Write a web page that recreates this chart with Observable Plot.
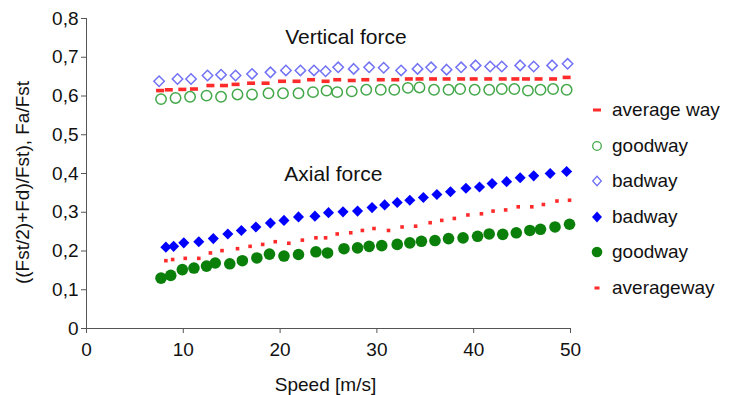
<!DOCTYPE html>
<html><head><meta charset="utf-8">
<script src="https://cdn.jsdelivr.net/npm/d3@7"></script>
<script src="https://cdn.jsdelivr.net/npm/@observablehq/plot@0.6"></script>
<style>
body{margin:0;background:#fff;}
#wrap{position:relative;width:731px;height:395px;font-family:"Liberation Sans",Arial,sans-serif;}
#legend{position:absolute;left:590px;top:0;}
.item{position:absolute;left:0;height:22px;display:flex;align-items:center;font-size:19px;color:#111;white-space:nowrap}
.item svg{margin-right:6px}
</style></head><body><div id="wrap"></div>
<script>
// Vertical force
const vertBadSpeed = [7.5, 9.4, 10.8, 12.5, 13.9, 15.4, 17.1, 19.0, 20.6, 22.1, 23.5, 24.7, 26.0, 27.6, 29.2, 30.7, 32.5, 34.2, 35.6, 37.2, 38.7, 40.2, 41.7, 42.9, 44.8, 46.2, 48.1, 49.7];
const vertBadVal = [0.638, 0.644, 0.644, 0.653, 0.655, 0.653, 0.657, 0.661, 0.666, 0.666, 0.666, 0.664, 0.674, 0.670, 0.674, 0.673, 0.666, 0.670, 0.674, 0.668, 0.674, 0.679, 0.676, 0.676, 0.679, 0.676, 0.679, 0.683];
const vertGoodSpeed = [7.7, 9.2, 10.7, 12.4, 13.9, 15.6, 17.1, 18.8, 20.3, 21.9, 23.4, 24.8, 25.9, 27.4, 28.9, 30.4, 31.8, 33.2, 34.4, 35.9, 37.4, 38.6, 40.1, 41.6, 42.9, 44.2, 45.6, 46.9, 48.2, 49.6];
const vertGoodVal = [0.592, 0.595, 0.598, 0.601, 0.598, 0.604, 0.604, 0.607, 0.607, 0.607, 0.610, 0.614, 0.610, 0.612, 0.616, 0.616, 0.616, 0.621, 0.622, 0.616, 0.616, 0.618, 0.616, 0.616, 0.618, 0.618, 0.614, 0.616, 0.618, 0.616];
const vertAvgSpeed = [7.6, 8.5, 9.9, 11.1, 12.8, 14.2, 15.4, 17.0, 18.5, 20.2, 21.7, 23.2, 24.7, 25.9, 27.4, 28.8, 30.4, 31.9, 33.3, 34.4, 35.8, 37.2, 38.7, 40.0, 41.5, 43.0, 44.3, 45.4, 46.7, 48.2, 49.6];
const vertAvgVal = [0.614, 0.616, 0.617, 0.618, 0.627, 0.627, 0.630, 0.633, 0.633, 0.638, 0.638, 0.642, 0.638, 0.642, 0.640, 0.642, 0.642, 0.642, 0.644, 0.644, 0.644, 0.644, 0.644, 0.644, 0.644, 0.644, 0.644, 0.644, 0.644, 0.644, 0.648];
// Axial force
const axBadSpeed = [8.2, 9.0, 10.05, 11.6, 13.1, 14.6, 16.0, 17.5, 19.0, 20.4, 21.9, 23.6, 25.0, 26.5, 28.0, 29.5, 30.8, 32.1, 33.4, 34.8, 36.2, 37.6, 39.2, 40.6, 41.9, 43.4, 44.8, 46.2, 47.9, 49.6];
const axBadVal = [0.210, 0.212, 0.221, 0.224, 0.232, 0.244, 0.253, 0.262, 0.272, 0.279, 0.288, 0.290, 0.299, 0.301, 0.303, 0.312, 0.319, 0.325, 0.331, 0.338, 0.346, 0.353, 0.362, 0.365, 0.374, 0.379, 0.389, 0.394, 0.400, 0.405];
const axGoodSpeed = [7.7, 8.7, 9.9, 11.1, 12.4, 13.3, 14.8, 16.1, 17.6, 18.9, 20.4, 21.9, 23.7, 24.9, 26.6, 28.0, 29.2, 30.5, 32.1, 33.4, 34.6, 36.0, 37.4, 38.9, 40.4, 41.6, 43.0, 44.4, 45.8, 46.9, 48.4, 49.9];
const axGoodVal = [0.130, 0.137, 0.152, 0.156, 0.161, 0.169, 0.167, 0.175, 0.182, 0.192, 0.187, 0.191, 0.198, 0.195, 0.206, 0.208, 0.212, 0.214, 0.217, 0.221, 0.225, 0.227, 0.232, 0.234, 0.238, 0.244, 0.243, 0.247, 0.253, 0.256, 0.262, 0.269];
const axAvgSpeed = [8.2, 8.9, 10.2, 11.6, 12.8, 14.0, 15.6, 16.9, 18.2, 19.5, 20.9, 22.3, 23.7, 24.7, 25.9, 27.3, 28.5, 29.7, 31.2, 32.6, 34.0, 35.5, 36.7, 38.0, 39.4, 40.8, 42.0, 43.3, 44.6, 46.0, 47.2, 48.6, 49.9];
const axAvgVal = [0.175, 0.178, 0.181, 0.181, 0.195, 0.201, 0.206, 0.212, 0.217, 0.224, 0.220, 0.228, 0.234, 0.234, 0.244, 0.247, 0.253, 0.258, 0.253, 0.262, 0.264, 0.273, 0.279, 0.284, 0.293, 0.296, 0.303, 0.306, 0.314, 0.314, 0.320, 0.329, 0.331];

const xTicks = [0, 10, 20, 30, 40, 50];
const yTicks = [0, 0.1, 0.2, 0.3, 0.4, 0.5, 0.6, 0.7, 0.8];
const xLabel = "Speed [m/s]";
const yLabel = "((Fst/2)+Fd)/Fst), Fa/Fst";
const legendLabels = ["average way", "goodway", "badway", "badway", "goodway", "averageway"];
const annoText = ["Vertical force", "Axial force"];
const annoSpeed = [26.8, 25.5];
const annoVal = [0.752, 0.399];

const zip = (xs, ys) => xs.map((x, i) => ({x, y: ys[i]}));

const dashSym = {draw(ctx) { ctx.rect(-4, -1.8, 8, 3.6); }};
const dotSym = {draw(ctx) { ctx.rect(-1.8, -1.8, 3.6, 3.6); }};

const RED = "#ff2b2b", LBLUE = "#7272f5", LGREEN = "#44a84a", BLUE = "#0000ff", GREEN = "#0a800a";

const plot = Plot.plot({
  width: 731, height: 395,
  marginLeft: 86, marginRight: 161, marginTop: 18, marginBottom: 67,
  style: {fontFamily: "'Liberation Sans', Arial, sans-serif", fontSize: "19px", color: "#111", overflow: "visible"},
  x: {domain: [0, 50]},
  y: {domain: [0, 0.8]},
  marks: [
    Plot.axisY({ticks: yTicks, tickSize: 5, tickPadding: 3, stroke: "#555", fontSize: 19,
      tickFormat: d => d === 0 ? "0" : d.toFixed(1).replace(".", ","), label: null}),
    Plot.axisX({ticks: xTicks, tickSize: 5, tickPadding: 9, stroke: "#555", fontSize: 19, label: null}),
    Plot.text([yLabel], {frameAnchor: "left", rotate: -90, dx: -64, dy: 9, fontSize: 19, fill: "#111", textAnchor: "middle", lineAnchor: "middle"}),
    Plot.text([xLabel], {frameAnchor: "bottom", dx: -3, dy: 56, fontSize: 19, fill: "#111", textAnchor: "middle", lineAnchor: "middle"}),
    Plot.ruleX([0], {stroke: "#555"}),
    Plot.ruleY([0], {stroke: "#555"}),
    Plot.dot(zip(vertBadSpeed, vertBadVal), {x: "x", y: "y", symbol: "diamond2", r: 4.7, stroke: LBLUE, strokeWidth: 1.5, fill: "none"}),
    Plot.dot(zip(vertGoodSpeed, vertGoodVal), {x: "x", y: "y", symbol: "circle", r: 5.2, stroke: LGREEN, strokeWidth: 1.5, fill: "none"}),
    Plot.dot(zip(vertAvgSpeed, vertAvgVal), {x: "x", y: "y", symbol: dashSym, fill: RED, stroke: "none"}),
    Plot.dot(zip(axBadSpeed, axBadVal), {x: "x", y: "y", symbol: "diamond2", r: 5, fill: BLUE, stroke: "none"}),
    Plot.dot(zip(axAvgSpeed, axAvgVal), {x: "x", y: "y", symbol: dotSym, fill: RED, stroke: "none"}),
    Plot.dot(zip(axGoodSpeed, axGoodVal), {x: "x", y: "y", symbol: "circle", r: 5.8, fill: GREEN, stroke: "none"}),
    Plot.text(annoText.map((t, i) => ({t, x: annoSpeed[i], y: annoVal[i]})), {x: "x", y: "y", text: "t", fontSize: 21, fill: "#111"})
  ]
});

const wrap = document.getElementById("wrap");
wrap.appendChild(plot);

// legend
const legend = document.createElement("div");
legend.id = "legend";
const rowsY = [110, 146, 181, 217, 252, 288];
const markers = [
  `<rect x="3" y="7.5" width="8" height="3" fill="${RED}"/>`,
  `<circle cx="7" cy="9" r="4.3" fill="none" stroke="${LGREEN}" stroke-width="1.3"/>`,
  `<path d="M7,4.2L11.3,9L7,13.8L2.7,9Z" fill="none" stroke="${LBLUE}" stroke-width="1.3"/>`,
  `<path d="M7,3.6L12,9L7,14.4L2,9Z" fill="${BLUE}"/>`,
  `<circle cx="7" cy="9" r="5.3" fill="${GREEN}"/>`,
  `<rect x="4.5" y="7.5" width="5" height="3" fill="${RED}"/>`
];
legendLabels.forEach((lab, i) => {
  const it = document.createElement("div");
  it.className = "item";
  it.style.top = (rowsY[i] - 11) + "px";
  it.innerHTML = `<svg width="16" height="18">${markers[i]}</svg><span>${lab}</span>`;
  legend.appendChild(it);
});
wrap.appendChild(legend);
</script></body></html>
